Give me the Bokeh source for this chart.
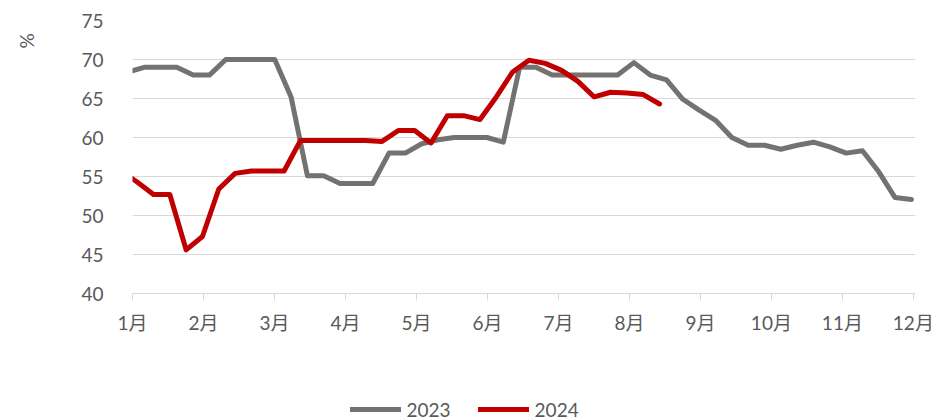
import pandas as pd
from bokeh.plotting import figure
from bokeh.layouts import column
from bokeh.models import (FixedTicker, Legend, LegendItem, LinearAxis, Range1d,
                          ColumnDataSource)
from bokeh.embed import file_html
from bokeh.resources import INLINE

# ---- data ----
month_labels = ["1月", "2月", "3月", "4月", "5月", "6月", "7月", "8月", "9月", "10月", "11月", "12月"]
y_ticks = [40, 45, 50, 55, 60, 65, 70, 75]
unit_label = "%"

series_2023_name = "2023"
start_2023 = "2022-12-30"   # weekly observations
values_2023 = [68.4, 69.0, 69.0, 69.0, 68.0, 68.0, 70.0, 70.0, 70.0, 70.0,
               65.2, 55.1, 55.1, 54.1, 54.1, 54.1, 58.0, 58.0, 59.2, 59.7,
               60.0, 60.0, 60.0, 59.4, 69.0, 69.0, 68.0, 68.0, 68.0, 68.0,
               68.0, 69.6, 68.0, 67.4, 64.9, 63.5, 62.2, 60.0, 59.0, 59.0,
               58.5, 59.0, 59.4, 58.8, 58.0, 58.3, 55.6, 52.3, 52.05]

series_2024_name = "2024"
start_2024 = "2023-12-27"
values_2024 = [55.7, 54.3, 52.7, 52.7, 45.6, 47.3, 53.4, 55.4, 55.7, 55.7,
               55.7, 59.6, 59.6, 59.6, 59.6, 59.6, 59.5, 60.9, 60.9, 59.3,
               62.8, 62.8, 62.3, 65.2, 68.4, 69.9, 69.5, 68.6, 67.2, 65.2,
               65.8, 65.7, 65.5, 64.3]

GRAY = "#767171"
RED = "#C00000"
TXT = "#595959"
GRID = "#d9d9d9"
FONT = "Lato, 'Noto Sans CJK SC'"
LINE_W = 5


def month_pos(start, n, year):
    dates = pd.date_range(start, periods=n, freq="7D")
    jan1 = pd.Timestamp(f"{year}-01-01")
    return [1 + (d - jan1).days / 30.44 for d in dates]


src23 = ColumnDataSource(dict(x=month_pos(start_2023, len(values_2023), 2023), y=values_2023))
src24 = ColumnDataSource(dict(x=month_pos(start_2024, len(values_2024), 2024), y=values_2024))

MAIN_H = 340
TOTAL_H = 417
p = figure(width=939, height=MAIN_H, output_backend="svg", toolbar_location=None,
           x_range=Range1d(1, 12.03), y_range=Range1d(40, 75),
           min_border_left=132, min_border_right=24, min_border_top=20,
           min_border_bottom=MAIN_H - 293)
p.outline_line_color = None
p.background_fill_color = "white"
p.border_fill_color = "white"

r23 = p.line("x", "y", source=src23, line_color=GRAY, line_width=LINE_W,
             line_cap="round", line_join="round")
r24 = p.line("x", "y", source=src24, line_color=RED, line_width=LINE_W,
             line_cap="round", line_join="round")

# x axis
xa = p.xaxis[0]
xa.ticker = FixedTicker(ticks=list(range(1, 13)))
xa.major_label_overrides = {i + 1: lab for i, lab in enumerate(month_labels)}
xa.axis_line_color = GRID
xa.major_tick_line_color = GRID
xa.major_tick_in = 0
xa.major_tick_out = 7
xa.minor_tick_line_color = None
xa.major_label_text_font = FONT
xa.major_label_text_font_size = "19px"
xa.major_label_text_color = TXT
xa.major_label_standoff = 10

# y axis
ya = p.yaxis[0]
ya.ticker = FixedTicker(ticks=y_ticks)
ya.axis_line_color = None
ya.major_tick_line_color = None
ya.minor_tick_line_color = None
ya.major_tick_in = 0
ya.major_tick_out = 0
ya.major_label_text_font = FONT
ya.major_label_text_font_size = "19px"
ya.major_label_text_color = TXT
ya.major_label_standoff = 29

# unit label ("%") as the rotated label of an extra, line-less axis at the top left
unit_pos = 72.4
ua = LinearAxis(ticker=FixedTicker(ticks=[unit_pos]),
                major_label_overrides={unit_pos: unit_label},
                major_label_orientation="vertical",
                axis_line_color=None, major_tick_line_color=None, minor_tick_line_color=None,
                major_tick_in=0, major_tick_out=0, major_label_standoff=40,
                major_label_text_font=FONT, major_label_text_font_size="19px",
                major_label_text_color=TXT)
p.add_layout(ua, "left")

p.xgrid.grid_line_color = None
p.ygrid.ticker = FixedTicker(ticks=y_ticks)
p.ygrid.grid_line_color = GRID
p.ygrid.grid_line_width = 1

# legend strip below the chart (legend keys use line glyphs with no drawable point)
LEG_H = TOTAL_H - MAIN_H
q = figure(width=939, height=LEG_H, output_backend="svg", toolbar_location=None,
           x_axis_type=None, y_axis_type=None, x_range=Range1d(0, 1), y_range=Range1d(0, 1),
           min_border_left=0, min_border_right=0, min_border_top=0, min_border_bottom=0)
q.outline_line_color = None
q.grid.visible = False
nan = float("nan")
k23 = q.line(x=[nan], y=[nan], line_color=GRAY, line_width=LINE_W, line_cap="round")
k24 = q.line(x=[nan], y=[nan], line_color=RED, line_width=LINE_W, line_cap="round")

legend = Legend(items=[LegendItem(label=series_2023_name, renderers=[k23]),
                       LegendItem(label=series_2024_name, renderers=[k24])],
                location=(217.5, -3.5), orientation="horizontal",
                glyph_width=51, glyph_height=20, label_standoff=6, spacing=27,
                padding=0, margin=0, border_line_color=None, background_fill_alpha=0,
                label_text_font=FONT, label_text_font_size="19px", label_text_color=TXT)
q.add_layout(legend)

layout = column(p, q, spacing=0)
open("out.html", "w").write(file_html(layout, INLINE))
